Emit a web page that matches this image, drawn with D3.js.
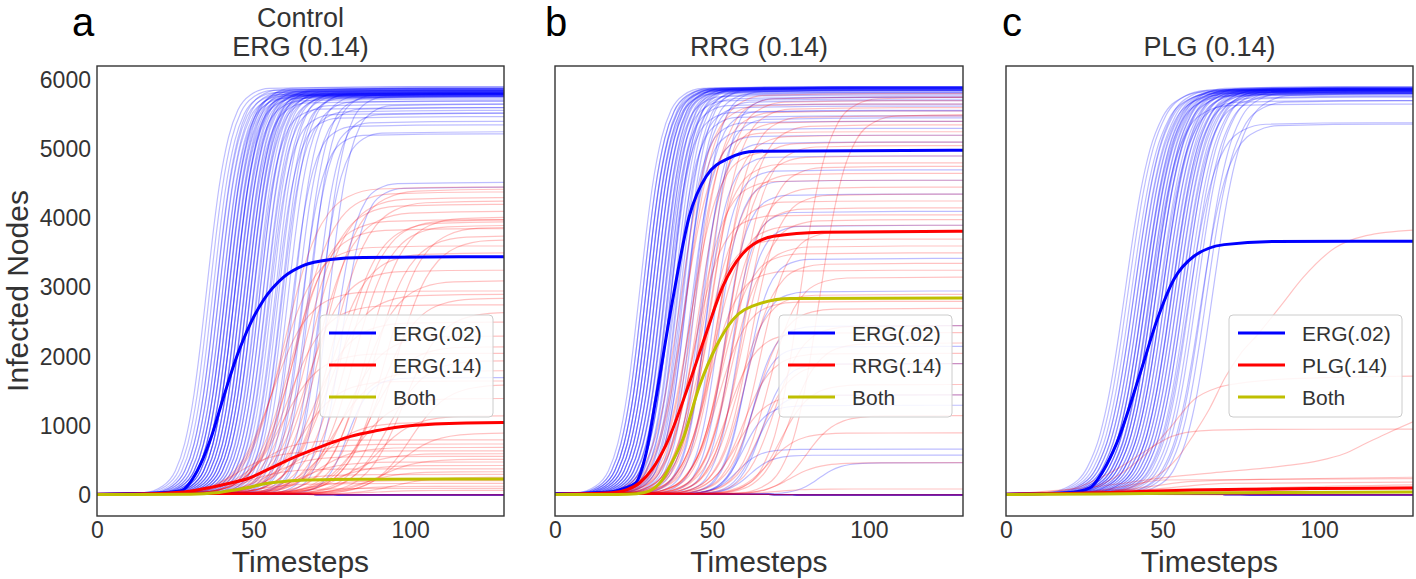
<!DOCTYPE html>
<html><head><meta charset="utf-8">
<script src="https://cdn.jsdelivr.net/npm/d3@7"></script>
<style>body{margin:0;background:#fff}</style>
</head><body><svg id="chart" width="1416" height="579"></svg>
<script>
// ---------------- DATA ----------------
const xTicks = [0, 50, 100];
const yTicks = [0, 1000, 2000, 3000, 4000, 5000, 6000];
const START = 15; // infected nodes at t = 0

// normalised rise shapes [offset from half-rise timestep, fraction of final size]
const steepRise  = [[-60,0],[-20,0.004],[-14,0.02],[-10,0.057],[-7,0.124],[-4,0.246],[-2,0.364],[0,0.5],[2,0.636],[4,0.754],[7,0.876],[10,0.943],[14,0.98],[20,0.996],[60,1],[200,1]];
const mediumRise = [[-60,0],[-25,0.004],[-18,0.019],[-12,0.067],[-8,0.147],[-5,0.25],[-2,0.392],[0,0.5],[2,0.608],[5,0.75],[8,0.853],[12,0.933],[18,0.981],[25,0.996],[60,1],[200,1]];
const gentleRise = [[-60,0],[-30,0.006],[-20,0.032],[-14,0.085],[-10,0.154],[-6,0.265],[-3,0.375],[0,0.5],[3,0.625],[6,0.735],[10,0.846],[14,0.915],[20,0.968],[30,0.994],[60,1],[200,1]];

// individual runs: [half-rise timestep, final infected nodes]
const panelA_blueRuns = [[35,5900],[36,5870],[37,5840],[38,5810],[38,5880],[39,5790],[39,5850],[40,5820],[40,5760],[41,5800],[41,5870],[41,5850],[42,5830],[42,5780],[42,5900],[43,5810],[43,5750],[43,5880],[44,5840],[44,5790],[44,5860],[44,5810],[45,5800],[45,5720],[45,5860],[46,5820],[46,5780],[46,5840],[47,5850],[47,5800],[47,5690],[48,5830],[48,5770],[48,5800],[49,5810],[49,5880],[49,5780],[50,5790],[50,5740],[50,5870],[51,5820],[51,5600],[52,5800],[52,5850],[53,5760],[53,5830],[54,5790],[54,5650],[55,5810],[55,5520],[56,5780],[57,5840],[57,5470],[58,5760],[59,5800],[59,5560],[60,5820],[61,5700],[62,5350],[63,5790],[64,5600],[65,5220],[66,5760],[67,5400],[68,5800],[70,5520],[71,5250],[72,5780],[74,5650],[76,4520],[78,4450],[80,1700],[70,5],[70,5],[70,5],[70,5],[70,5],[70,5],[70,5],[70,5],[70,5],[70,5]];
const panelA_redRuns = [[60,4450],[64,4380],[68,4300],[72,4420],[66,4200],[75,4250],[70,4100],[63,3980],[78,3950],[82,3900],[86,4020],[62,3850],[88,3750],[80,3980],[58,3600],[74,3500],[92,3880],[95,3700],[67,3250],[84,3100],[56,2950],[73,2900],[90,2850],[61,2750],[98,2650],[69,2500],[79,2300],[87,2150],[59,2050],[93,1950],[76,1800],[65,1650],[100,1600],[83,1400],[89,1150],[71,1050],[96,900],[50,800],[60,740],[70,690],[45,640],[80,600],[55,560],[90,520],[65,480],[75,430],[48,380],[85,340],[58,300],[95,260],[68,210],[52,170],[78,130],[62,100],[88,70],[70,5],[70,5],[70,5]];
const panelB_blueRuns = [[27,5900],[28,5880],[28,5890],[29,5870],[29,5900],[29,5850],[30,5880],[30,5890],[30,5820],[31,5870],[31,5900],[31,5860],[32,5880],[32,5840],[32,5890],[33,5870],[33,5780],[33,5900],[34,5880],[34,5850],[34,5720],[35,5890],[35,5860],[35,5650],[36,5880],[36,5800],[36,5550],[37,5870],[37,5890],[37,5750],[38,5840],[38,5480],[39,5870],[39,5620],[40,5850],[40,5400],[41,5880],[41,5300],[42,5700],[42,5820],[43,5200],[44,5560],[45,5850],[46,5100],[47,5450],[48,4900],[49,5750],[50,4700],[52,4550],[54,4350],[56,4100],[58,3900],[61,3420],[60,2950],[63,2450],[62,2150],[66,1900],[64,1450],[60,1300],[58,665],[62,580],[84,470],[70,5],[70,5],[70,5],[70,5],[70,5],[70,5],[70,5],[70,5],[70,5],[70,5]];
const panelB_redRuns = [[40,5650],[41,5250],[42,5800],[43,4980],[44,5550],[44,4050],[45,5750],[45,4550],[46,5400],[46,3700],[47,4800],[48,5700],[48,4250],[49,5200],[49,3250],[50,5600],[50,3900],[51,4650],[52,5100],[52,2800],[53,5480],[53,3500],[54,4150],[55,4900],[55,2350],[56,5350],[56,3600],[57,4450],[58,5050],[58,2900],[58,1450],[59,3980],[60,4750],[60,2050],[61,3350],[62,4350],[64,2700],[65,3820],[66,1900],[68,3150],[68,900],[70,2450],[72,1600],[75,2200],[75,470],[78,5750],[80,1150],[70,90],[84,5500],[70,5],[70,5],[70,5]];
const panelC_blueRuns = [[38,5850],[39,5870],[40,5820],[41,5880],[41,5840],[42,5860],[42,5800],[43,5870],[43,5830],[44,5880],[44,5850],[44,5780],[45,5860],[45,5820],[45,5900],[46,5880],[46,5840],[46,5650],[47,5870],[47,5800],[47,5890],[48,5860],[48,5830],[48,5880],[49,5850],[49,5700],[50,5870],[50,5820],[50,5900],[51,5860],[51,5840],[52,5880],[52,5800],[53,5850],[53,5870],[53,5760],[54,5830],[54,5860],[55,5810],[55,5880],[56,5850],[56,5750],[57,5870],[57,5840],[58,5820],[58,5380],[59,5860],[60,5800],[61,5850],[62,5360],[63,5830],[64,5700],[66,5800],[70,5],[70,5],[70,5],[70,5],[70,5],[70,5],[70,5],[70,5],[70,5],[70,5]];
// panel c red runs are few and irregular: [timestep, infected nodes] points
const panelC_redRuns = [
  [[0,15],[30,40],[45,200],[55,550],[60,880],[65,1250],[70,1700],[75,2050],[80,2300],[88,2750],[95,3150],[105,3570],[115,3750],[130,3830]],
  [[0,15],[20,50],[30,150],[40,420],[45,610],[52,950],[60,1380],[68,1560],[75,1620],[90,1680],[130,1720]],
  [[0,15],[20,80],[30,250],[37,420],[45,650],[53,850],[62,930],[80,950],[130,955]],
  [[0,15],[30,130],[50,250],[70,340],[90,430],[100,500],[108,600],[115,750],[122,900],[130,1060]],
  [[0,15],[30,40],[45,120],[60,200],[130,260]],
  [[0,15],[25,40],[40,150],[50,220],[130,240]],
  [[0,15],[35,40],[55,120],[70,170],[130,190]],
  [[0,15],[40,30],[70,90],[130,150]],
  [[0,15],[50,40],[130,110]],
  [[0,15],[20,30],[35,80],[130,120]],
  [[0,15],[130,5]],[[0,15],[130,5]],[[0,15],[130,5]]
];

// mean curves [timestep, infected nodes]
const panelA_blueMean = [[0,15],[15,25],[22,40],[26.6,60],[32,350],[36.2,800],[40.5,1430],[44.7,2010],[49,2480],[53.2,2820],[59.6,3150],[66,3320],[74.5,3405],[85,3435],[130,3445]];
const panelA_redMean  = [[0,15],[20,25],[30,60],[36,110],[42,170],[48.5,245],[55,380],[62,530],[68,640],[75,760],[81,850],[89,930],[97,990],[108,1030],[118,1045],[130,1050]];
const panelA_bothMean = [[0,10],[30,15],[38,35],[43.5,72],[49,120],[54,169],[60,200],[65,215],[75,228],[90,232],[130,235]];
const panelB_blueMean = [[0,15],[18,50],[22,100],[25.7,178],[29,600],[32.1,1382],[37.5,2826],[42.8,4030],[48.2,4608],[55.6,4872],[64,4970],[130,4983]];
const panelB_redMean  = [[0,15],[18,35],[23,80],[27,180],[31,380],[35.3,720],[42.8,1622],[48.2,2345],[53.5,3019],[60,3500],[69.6,3740],[85,3800],[130,3813]];
const panelB_bothMean = [[0,10],[20,12],[26,22],[30,60],[34,210],[37,450],[40.7,805],[46,1575],[51.4,2152],[56.7,2537],[64,2750],[75,2840],[130,2850]];
const panelC_blueMean = [[0,15],[20,35],[26.8,106],[31,350],[35.4,756],[42.9,1767],[48.3,2537],[53.6,3115],[60,3452],[69.7,3620],[85.8,3665],[130,3670]];
const panelC_redMean  = [[0,15],[20,25],[40,50],[60,75],[80,88],[100,97],[130,105]];
const panelC_bothMean = [[0,10],[30,18],[60,32],[90,40],[130,45]];

const panelLetters = ['a', 'b', 'c'];
const panelTitles = [['Control', 'ERG (0.14)'], ['RRG (0.14)'], ['PLG (0.14)']];
const legendLabels = [['ERG(.02)', 'ERG(.14)', 'Both'], ['ERG(.02)', 'RRG(.14)', 'Both'], ['ERG(.02)', 'PLG(.14)', 'Both']];

// ---------------- DRAWING ----------------
const FONT = '"Liberation Sans", Arial, sans-serif';
const TXT = '#333333';
const BLUE = '#0000ff', RED = '#ff0000', YEL = '#bfbf00';
const TOP = 66, BOTTOM = 516;

const panels = [
  {left: 97,  right: 504, letterX: 72, blue: panelA_blueRuns, blueProf: steepRise,  red: panelA_redRuns, redProf: gentleRise, means: [panelA_blueMean, panelA_redMean, panelA_bothMean], yLabels: true},
  {left: 555, right: 963, letterX: 545, blue: panelB_blueRuns, blueProf: steepRise,  red: panelB_redRuns, redProf: mediumRise, means: [panelB_blueMean, panelB_redMean, panelB_bothMean], yLabels: false},
  {left: 1006, right: 1413, letterX: 1002, blue: panelC_blueRuns, blueProf: mediumRise, red: panelC_redRuns, redProf: null, means: [panelC_blueMean, panelC_redMean, panelC_bothMean], yLabels: false}
];

const svg = d3.select('#chart');
const y = d3.scaleLinear().domain([-300, 6200]).range([BOTTOM, TOP]);

const runPoints = (run, prof) => prof.map(([o, f]) => [run[0] + o, START + f * (run[1] - START)]);

panels.forEach((p, i) => {
  const x = d3.scaleLinear().domain([0, 130]).range([p.left, p.right]);
  const line = d3.line().x(d => x(d[0])).y(d => y(d[1])).curve(d3.curveMonotoneX);
  const g = svg.append('g');

  g.append('clipPath').attr('id', 'clip' + i).append('rect')
    .attr('x', p.left).attr('y', TOP).attr('width', p.right - p.left).attr('height', BOTTOM - TOP);
  const plot = g.append('g').attr('clip-path', `url(#clip${i})`);

  plot.selectAll('path.blue').data(p.blue).join('path').attr('class', 'blue')
    .attr('d', r => line(runPoints(r, p.blueProf)))
    .attr('fill', 'none').attr('stroke', BLUE).attr('stroke-width', 1.2).attr('stroke-opacity', 0.26);
  plot.selectAll('path.red').data(p.red).join('path').attr('class', 'red')
    .attr('d', r => line(p.redProf ? runPoints(r, p.redProf) : r))
    .attr('fill', 'none').attr('stroke', RED).attr('stroke-width', 1.2).attr('stroke-opacity', 0.24);

  const meanColors = [BLUE, RED, YEL];
  plot.selectAll('path.mean').data(p.means).join('path').attr('class', 'mean')
    .attr('d', line).attr('fill', 'none')
    .attr('stroke', (d, k) => meanColors[k]).attr('stroke-width', 3);

  // frame
  g.append('rect').attr('x', p.left).attr('y', TOP).attr('width', p.right - p.left).attr('height', BOTTOM - TOP)
    .attr('fill', 'none').attr('stroke', '#333').attr('stroke-width', 1.4);

  // x axis
  const xa = g.append('g').attr('transform', `translate(0,${BOTTOM})`)
    .call(d3.axisBottom(x).tickValues(xTicks).tickSize(0).tickPadding(6).tickFormat(d3.format('d')));
  xa.select('.domain').remove();
  xa.selectAll('text').attr('font-family', FONT).attr('font-size', 23).attr('fill', TXT);

  if (p.yLabels) {
    const ya = g.append('g').attr('transform', `translate(${p.left},0)`)
      .call(d3.axisLeft(y).tickValues(yTicks).tickSize(0).tickPadding(6).tickFormat(d3.format('d')));
    ya.select('.domain').remove();
    ya.selectAll('text').attr('font-family', FONT).attr('font-size', 23).attr('fill', TXT);
  }

  const cx = (p.left + p.right) / 2;
  g.append('text').attr('x', cx).attr('y', 572).attr('text-anchor', 'middle')
    .attr('font-family', FONT).attr('font-size', 30).attr('fill', TXT).text('Timesteps');

  const titles = panelTitles[i];
  titles.forEach((t, k) => {
    g.append('text').attr('x', cx).attr('y', 56 - (titles.length - 1 - k) * 29).attr('text-anchor', 'middle')
      .attr('font-family', FONT).attr('font-size', 27).attr('fill', TXT).text(t);
  });

  g.append('text').attr('x', p.letterX).attr('y', 36)
    .attr('font-family', FONT).attr('font-size', 40).attr('fill', '#000').text(panelLetters[i]);

  // legend
  const lx = p.right - 184, ly = 315;
  const lg = g.append('g');
  lg.append('rect').attr('x', lx).attr('y', ly).attr('width', 173).attr('height', 102).attr('rx', 4)
    .attr('fill', '#fff').attr('fill-opacity', 0.85).attr('stroke', '#cccccc').attr('stroke-width', 1);
  legendLabels[i].forEach((lab, k) => {
    const yy = ly + 18 + k * 32;
    lg.append('line').attr('x1', lx + 9).attr('x2', lx + 56).attr('y1', yy).attr('y2', yy)
      .attr('stroke', meanColors[k]).attr('stroke-width', 3);
    lg.append('text').attr('x', lx + 73).attr('y', yy + 7.5)
      .attr('font-family', FONT).attr('font-size', 21).attr('fill', TXT).text(lab);
  });
});

svg.append('text').attr('transform', 'translate(28,291) rotate(-90)').attr('text-anchor', 'middle')
  .attr('font-family', FONT).attr('font-size', 30).attr('fill', TXT).text('Infected Nodes');
</script>
</body></html>
